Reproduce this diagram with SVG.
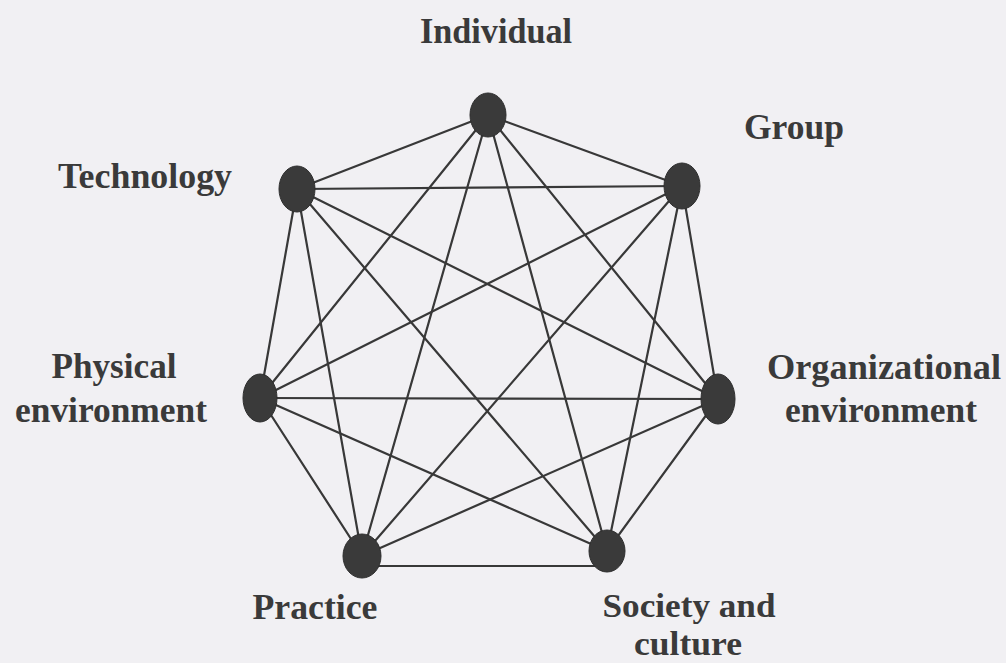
<svg xmlns="http://www.w3.org/2000/svg" width="1006" height="663" viewBox="0 0 1006 663">
<style>
.bg{fill:#f1f0f3}
.e line{stroke:#383838;stroke-width:2.2;stroke-linecap:round}
.n ellipse{fill:#3a3a3a;stroke:#2e2e2e;stroke-width:1}
text{font-family:"Liberation Serif","Times New Roman",serif;font-weight:bold;font-size:36px;fill:#3a3a3a;text-anchor:middle}
.sm{font-size:34px}
</style>
<rect class="bg" x="0" y="0" width="1006" height="663"/>
<g id="connectors" class="e">
<line x1="488" y1="115" x2="682" y2="186"/>
<line x1="488" y1="115" x2="297" y2="189"/>
<line x1="488" y1="115" x2="260" y2="398"/>
<line x1="488" y1="115" x2="718" y2="399"/>
<line x1="488" y1="115" x2="362" y2="556"/>
<line x1="488" y1="115" x2="607" y2="551"/>
<line x1="682" y1="186" x2="297" y2="189"/>
<line x1="682" y1="186" x2="260" y2="398"/>
<line x1="682" y1="186" x2="718" y2="399"/>
<line x1="682" y1="186" x2="362" y2="556"/>
<line x1="682" y1="186" x2="607" y2="551"/>
<line x1="297" y1="189" x2="260" y2="398"/>
<line x1="297" y1="189" x2="718" y2="399"/>
<line x1="297" y1="189" x2="362" y2="556"/>
<line x1="297" y1="189" x2="607" y2="551"/>
<line x1="260" y1="398" x2="718" y2="399"/>
<line x1="260" y1="398" x2="362" y2="556"/>
<line x1="260" y1="398" x2="607" y2="551"/>
<line x1="718" y1="399" x2="362" y2="556"/>
<line x1="718" y1="399" x2="607" y2="551"/>
<line x1="362" y1="566" x2="607" y2="566"/>
</g>
<g id="individual" class="n">
<ellipse cx="488" cy="115" rx="18" ry="22"/>
<text x="496" y="43" textLength="152" lengthAdjust="spacingAndGlyphs">Individual</text>
</g>
<g id="group" class="n">
<ellipse cx="682" cy="186" rx="18" ry="23"/>
<text x="794" y="139" textLength="100" lengthAdjust="spacingAndGlyphs">Group</text>
</g>
<g id="technology" class="n">
<ellipse cx="297" cy="189" rx="18" ry="23"/>
<text x="145" y="188" textLength="174" lengthAdjust="spacingAndGlyphs">Technology</text>
</g>
<g id="physical-environment" class="n">
<ellipse cx="260" cy="398" rx="17" ry="24"/>
<text x="114" y="378" textLength="125" lengthAdjust="spacingAndGlyphs">Physical</text>
<text x="111" y="422" textLength="192" lengthAdjust="spacingAndGlyphs">environment</text>
</g>
<g id="organizational-environment" class="n">
<ellipse cx="718" cy="399" rx="17" ry="25"/>
<text x="884" y="379" textLength="234" lengthAdjust="spacingAndGlyphs">Organizational</text>
<text x="881" y="422" textLength="192" lengthAdjust="spacingAndGlyphs">environment</text>
</g>
<g id="practice" class="n">
<ellipse cx="362" cy="556" rx="19" ry="22"/>
<text x="315" y="619" textLength="125" lengthAdjust="spacingAndGlyphs">Practice</text>
</g>
<g id="society-and-culture" class="n">
<ellipse cx="607" cy="551" rx="18" ry="21"/>
<text class="sm" x="689" y="617" textLength="173" lengthAdjust="spacingAndGlyphs">Society and</text>
<text class="sm" x="688" y="655" textLength="108" lengthAdjust="spacingAndGlyphs">culture</text>
</g>
</svg>
